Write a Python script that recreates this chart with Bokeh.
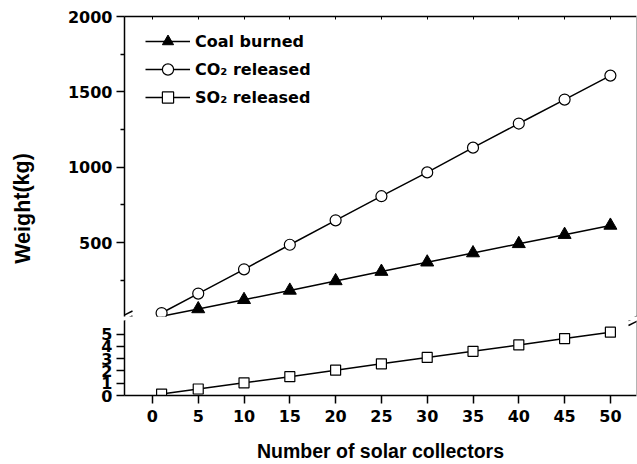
from bokeh.plotting import figure
from bokeh.layouts import column, row
from bokeh.models import (Range1d, FixedTicker, LinearAxis, Legend, LegendItem,
                          Label, Arrow)
from bokeh.embed import file_html
from bokeh.resources import INLINE

# ---- data -------------------------------------------------------------
collectors = [1, 5, 10, 15, 20, 25, 30, 35, 40, 45, 50]
coal_burned = [12, 60, 121, 183, 246, 308, 370, 431, 492, 553, 614]
co2_released = [33, 162, 323, 486, 648, 808, 966, 1130, 1290, 1449, 1608]
so2_released = [0.12, 0.53, 1.03, 1.53, 2.06, 2.58, 3.10, 3.60, 4.12, 4.64, 5.16]

x_ticks = [0, 5, 10, 15, 20, 25, 30, 35, 40, 45, 50]
upper_ticks = [500, 1000, 1500, 2000]
upper_minor_ticks = [250, 750, 1250, 1750]
lower_ticks = [0, 1, 2, 3, 4, 5]

series_names = ["Coal burned", "CO\u2082 released", "SO\u2082 released"]
x_title = "Number of solar collectors"
y_title = "Weight(kg)"

# ---- layout constants -------------------------------------------------
FONT = "DejaVu Sans"                       # tick labels and legend
TITLE_FONT = "Liberation Sans"             # axis titles
TOTAL_W, TOTAL_H = 637, 464
TITLE_W = 40                               # strip holding the y title
W = TOTAL_W - TITLE_W
FRAME_LEFT = 124                           # frame's left edge on the page
LEFT, RIGHT = FRAME_LEFT - TITLE_W, 1
UP_H, UP_TOP, UP_BOT = 318, 16, 2          # upper panel: frame 16..316
LO_H, LO_TOP, LO_BOT = 146, 2, 69          # lower panel: frame 320..395
UP_FRAME_H = UP_H - UP_TOP - UP_BOT
LO_FRAME_H = LO_H - LO_TOP - LO_BOT
FRAME_W = W - LEFT - RIGHT

x_range = Range1d(-3.05, 52.85)
up_range = Range1d(10, 2000)
lo_range = Range1d(0, 6.11)


def style_axis(ax, size="16px"):
    ax.axis_line_color = "black"
    ax.axis_line_width = 1.5
    ax.major_tick_line_color = "black"
    ax.major_tick_line_width = 1.5
    ax.minor_tick_line_color = "black"
    ax.minor_tick_line_width = 1.5
    ax.major_label_text_font = FONT
    ax.major_label_text_font_style = "bold"
    ax.major_label_text_font_size = size
    ax.major_label_text_color = "black"


def bare_axis(ax, color="black", width=1.5):
    # an axis drawn as a plain border line: no labels at all
    ax.axis_line_color = color
    ax.axis_line_width = width
    ax.major_label_text_font_size = "0px"
    ax.major_label_text_color = None
    ax.major_label_standoff = 0
    ax.minor_tick_line_color = None


def plain(fig):
    fig.grid.visible = False
    fig.outline_line_color = None
    fig.background_fill_color = "white"
    fig.border_fill_color = "white"


# ---- upper panel (coal, CO2) -----------------------------------------
up = figure(width=W, height=UP_H, x_range=x_range, y_range=up_range,
            output_backend="svg", toolbar_location=None,
            x_axis_location="above",
            min_border_left=LEFT, min_border_right=RIGHT,
            min_border_top=UP_TOP, min_border_bottom=UP_BOT)
plain(up)

top_ax = up.xaxis[0]
top_ax.ticker = FixedTicker(ticks=x_ticks)
bare_axis(top_ax)
top_ax.major_tick_line_color = "black"
top_ax.major_tick_in = 3
top_ax.major_tick_out = 0

ly = up.yaxis[0]
style_axis(ly)
ly.ticker = FixedTicker(ticks=upper_ticks, minor_ticks=upper_minor_ticks)
ly.major_tick_out = 8
ly.major_tick_in = 0
ly.minor_tick_out = 4
ly.minor_tick_in = 0
ly.major_label_standoff = 4

up_right = LinearAxis(ticker=FixedTicker(ticks=[]))
bare_axis(up_right, color="#b4b4b4", width=1)
up_right.major_tick_line_color = None
up.add_layout(up_right, "right")

coal_line = up.line(collectors, coal_burned, line_color="black", line_width=1.5)
coal_pts = up.scatter(collectors, coal_burned, marker="triangle", size=13,
                      fill_color="black", line_color="black")
co2_line = up.line(collectors, co2_released, line_color="black", line_width=1.5)
co2_pts = up.scatter(collectors, co2_released, marker="circle", size=11,
                     fill_color="white", line_color="black", line_width=1.2)

# legend key for the SO2 series, which is plotted in the lower panel
nan = float("nan")
so2_key_line = up.line([nan], [nan], line_color="black", line_width=1.5)
so2_key_pts = up.scatter([nan], [nan], marker="square", size=10,
                         fill_color="white", line_color="black", line_width=1.2)

# ---- lower panel (SO2) -----------------------------------------------
lo = figure(width=W, height=LO_H, x_range=x_range, y_range=lo_range,
            output_backend="svg", toolbar_location=None,
            min_border_left=LEFT, min_border_right=RIGHT,
            min_border_top=LO_TOP, min_border_bottom=LO_BOT)
plain(lo)

bx = lo.xaxis[0]
style_axis(bx)
bx.ticker = FixedTicker(ticks=x_ticks)
bx.major_tick_out = 8
bx.major_tick_in = 0
bx.major_label_standoff = 6
bx.axis_label = x_title
bx.axis_label_text_font = TITLE_FONT
bx.axis_label_text_font_style = "bold"
bx.axis_label_text_font_size = "19.5px"
bx.axis_label_text_color = "black"
bx.axis_label_standoff = 15

lyl = lo.yaxis[0]
style_axis(lyl)
lyl.ticker = FixedTicker(ticks=lower_ticks)
lyl.major_tick_out = 8
lyl.major_tick_in = 0
lyl.major_label_standoff = 4

lo_right = LinearAxis(ticker=FixedTicker(ticks=[]))
bare_axis(lo_right, color="#b4b4b4", width=1)
lo_right.major_tick_line_color = None
lo.add_layout(lo_right, "right")

so2_line = lo.line(collectors, so2_released, line_color="black", line_width=1.5)
so2_pts = lo.scatter(collectors, so2_released, marker="square", size=10,
                     fill_color="white", line_color="black", line_width=1.2)

# ---- legend ------------------------------------------------------------
legend = Legend(items=[
    LegendItem(label=series_names[0], renderers=[coal_line, coal_pts]),
    LegendItem(label=series_names[1], renderers=[co2_line, co2_pts]),
    LegendItem(label=series_names[2], renderers=[so2_key_line, so2_key_pts]),
], location=(21, 205), orientation="vertical",
    glyph_width=45, glyph_height=28, label_height=28, label_standoff=5,
    spacing=0, padding=0, margin=0,
    border_line_color=None, background_fill_alpha=0,
    inactive_fill_alpha=0,
    label_text_font=FONT, label_text_font_style="bold",
    label_text_font_size="16px", label_text_color="black")
up.add_layout(legend)


# ---- pixel -> data helpers for decorations ------------------------------
def up_xy(px, py):
    x0, x1 = x_range.start, x_range.end
    y0, y1 = up_range.start, up_range.end
    return (x0 + (px - LEFT) * (x1 - x0) / FRAME_W,
            y1 - (py - UP_TOP) * (y1 - y0) / UP_FRAME_H)


def lo_xy(px, py):
    x0, x1 = x_range.start, x_range.end
    y0, y1 = lo_range.start, lo_range.end
    top = UP_H + LO_TOP
    return (x0 + (px - LEFT) * (x1 - x0) / FRAME_W,
            y1 - (py - top) * (y1 - y0) / LO_FRAME_H)


# ---- axis-break marks ("//") on both vertical edges ----------------------
def break_marks(cx, centers):
    for cy in centers:
        a, b = (cx - 8, cy + 4), (cx + 8, cy - 4)
        for fig, conv in ((up, up_xy), (lo, lo_xy)):
            (xs, ys), (xe, ye) = conv(*a), conv(*b)
            fig.add_layout(Arrow(x_start=xs, y_start=ys, x_end=xe, y_end=ye,
                                 start=None, end=None, line_color="black",
                                 line_width=1.5))


break_marks(LEFT, (314.5, 319.5))
break_marks(W - RIGHT, (316, 321))

# ---- y title strip, spanning the full height of both panels -------------
ttl = figure(width=TITLE_W, height=TOTAL_H, x_range=Range1d(0, TITLE_W),
             y_range=Range1d(0, TOTAL_H), output_backend="svg",
             toolbar_location=None, x_axis_location=None, y_axis_location=None,
             min_border=0)
plain(ttl)
ttl.add_layout(Label(x=22, y=TOTAL_H - 208, text=y_title, angle=1.5708,
                     text_align="center", text_baseline="middle",
                     text_font=TITLE_FONT, text_font_style="bold",
                     text_font_size="21.5px", text_color="black"))

layout = row(ttl, column(up, lo, spacing=0), spacing=0)
open("out.html", "w").write(file_html(layout, INLINE))
